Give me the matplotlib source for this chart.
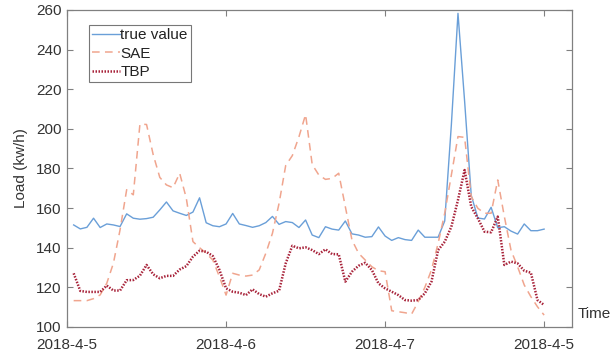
import matplotlib
matplotlib.use("Agg")
import matplotlib.pyplot as plt
import numpy as np

plt.rcParams['font.family'] = ['Liberation Sans', 'DejaVu Sans']

hours = list(range(1, 73))
tick_pos = [0, 24, 48, 72]
tick_labels = ['2018-4-5', '2018-4-6', '2018-4-7', '2018-4-5']

true_value = [151.5, 149.5, 150.3, 154.9, 150.2, 152.0, 151.5, 150.7, 157.1, 154.9,
              154.4, 154.7, 155.4, 159.1, 163.1, 158.6, 157.4, 156.3, 158.0, 165.2,
              152.6, 151.1, 150.6, 152.0, 157.3, 152.0, 151.2, 150.3, 151.1, 152.7,
              155.8, 151.8, 153.2, 152.7, 150.2, 154.0, 146.4, 145.1, 150.6, 149.4,
              148.9, 153.5, 147.0, 146.4, 145.3, 145.6, 150.5, 145.9, 143.7, 145.1,
              144.1, 143.7, 148.9, 145.3, 145.3, 145.3, 153.5, 202.0, 258.3, 214.0,
              166.5, 155.0, 154.5, 160.4, 150.1, 150.6, 148.4, 146.9, 152.0, 148.6,
              148.6, 149.4]

sae = [113.3, 113.3, 113.3, 114.3, 116.2, 122.1, 132.2, 149.0, 169.3, 166.7,
       202.4, 202.2, 187.0, 175.5, 171.7, 170.3, 177.6, 165.0, 143.1, 140.0,
       137.2, 133.8, 125.4, 116.1, 127.1, 126.2, 125.7, 126.2, 128.8, 137.2,
       147.3, 162.4, 181.5, 186.5, 196.0, 207.2, 182.0, 176.7, 174.5, 175.0,
       177.6, 160.7, 143.9, 137.2, 133.8, 130.4, 128.4, 127.9, 108.2, 107.7,
       107.2, 106.5, 112.8, 120.0, 128.8, 142.2, 157.4, 176.7, 196.1, 195.7,
       165.8, 159.9, 157.4, 157.4, 174.2, 155.7, 138.8, 130.4, 121.2, 115.3,
       110.2, 106.0]

tbp = [127.1, 118.2, 117.7, 117.7, 117.7, 120.9, 118.4, 118.4, 123.6, 123.7,
       125.9, 131.3, 126.6, 124.6, 125.8, 125.8, 129.0, 130.7, 135.5, 138.5,
       138.0, 135.8, 128.8, 119.5, 117.8, 117.3, 116.1, 119.0, 116.6, 115.3,
       117.0, 118.3, 132.1, 141.0, 139.7, 140.2, 138.8, 136.8, 139.2, 136.8,
       136.7, 122.9, 127.9, 130.9, 132.4, 128.8, 122.0, 119.5, 117.8, 116.1,
       113.6, 113.3, 113.6, 117.0, 122.9, 138.8, 143.0, 150.6, 164.1, 179.2,
       160.7, 154.8, 148.1, 147.8, 155.7, 131.3, 133.0, 132.1, 128.4, 127.4,
       113.6, 111.1]

fig = plt.figure(figsize=(6.15, 3.56), dpi=100)
ax = fig.add_axes([0.109, 0.0815, 0.821, 0.8905])

ax.plot(hours, true_value, color='#6a9fd8', lw=1.0, label='true value')
ax.plot(hours, sae, color='#f0a58e', lw=1.1, ls=(0, (5, 3.5)), label='SAE')
ax.plot(hours, tbp, color='#a8233a', lw=1.8, ls=(0, (0.6, 0.6)), label='TBP')

ax.set_xlim(0, 76.2)
ax.set_ylim(100, 260)
ax.set_xticks(tick_pos)
ax.set_xticklabels(tick_labels)
ax.set_yticks(np.arange(100, 261, 20))

spine_c = '#808080'
for s in ax.spines.values():
    s.set_color(spine_c)
    s.set_linewidth(0.9)
ax.tick_params(direction='in', length=4, width=0.8, color=spine_c,
               labelsize=11, labelcolor='#333333', top=True, right=True,
               labeltop=False, labelright=False, pad=4)
ax.tick_params(axis='x', pad=8)

ax.set_ylabel('Load (kw/h)', fontsize=11, color='#333333', labelpad=6)
fig.text(578 / 615, 1 - 314 / 356, 'Time', fontsize=11, color='#333333',
         ha='left', va='center')

leg = ax.legend(loc='upper left', bbox_to_anchor=(0.0436, 0.953), borderaxespad=0,
                fontsize=11, frameon=True, fancybox=False, handlelength=1.8,
                handletextpad=0.05, labelspacing=0.3, borderpad=0.2)
leg.get_frame().set_edgecolor('#555555')
leg.get_frame().set_linewidth(0.8)
for t in leg.get_texts():
    t.set_color('#222222')

fig.savefig('out.png', dpi=100)
